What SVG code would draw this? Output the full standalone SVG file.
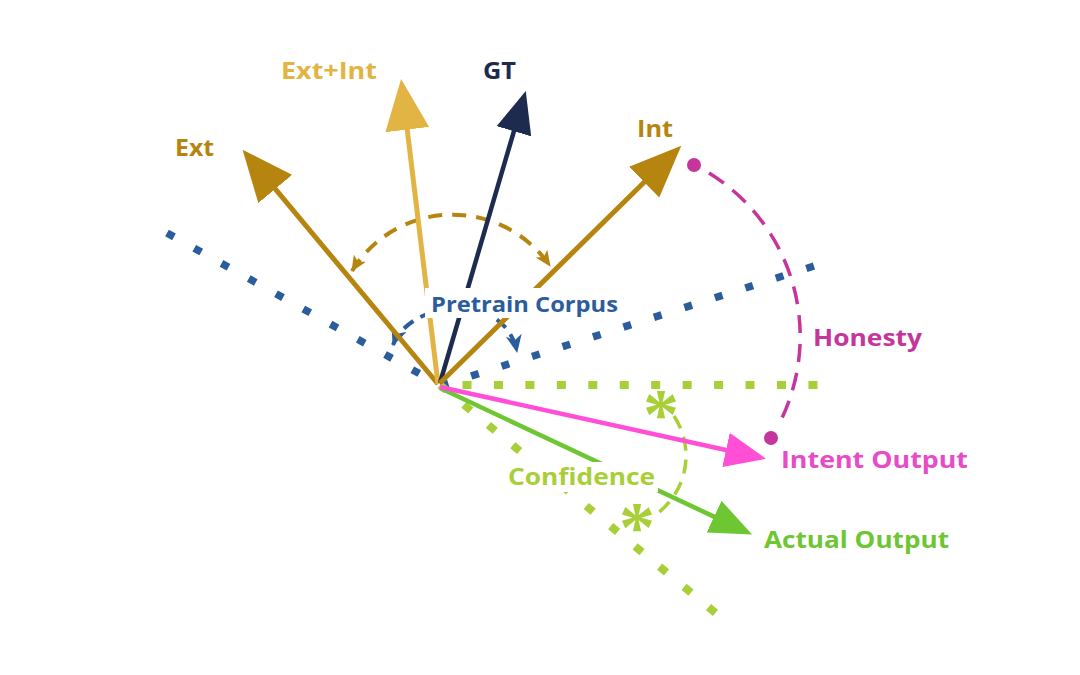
<svg xmlns="http://www.w3.org/2000/svg" width="1080" height="675" viewBox="0 0 1080 675">
<style>
text{font-family:"Open Sans","Noto Sans","DejaVu Sans",sans-serif;font-weight:700;font-size:24px}
.dotline{fill:none;stroke-linecap:butt}
.vec{fill:none;stroke-linecap:butt}
.ast{font-family:"Liberation Serif",serif;font-weight:700;font-size:72px;fill:#A9CF38;text-anchor:middle}
</style>
<defs>
<marker id="mExt" markerUnits="userSpaceOnUse" viewBox="0 0 51 44" markerWidth="51" markerHeight="44" refX="1" refY="22" orient="auto"><path d="M0 0 L51 22 L0 44 Z" fill="#B5850F"/></marker>
<marker id="mEI" markerUnits="userSpaceOnUse" viewBox="0 0 51 44" markerWidth="51" markerHeight="44" refX="1" refY="22" orient="auto"><path d="M0 0 L51 22 L0 44 Z" fill="#E2B443"/></marker>
<marker id="mGT" markerUnits="userSpaceOnUse" viewBox="0 0 42 36" markerWidth="42" markerHeight="36" refX="1" refY="18" orient="auto"><path d="M0 0 L42 18 L0 36 Z" fill="#1C2B4E"/></marker>
<marker id="mInt" markerUnits="userSpaceOnUse" viewBox="0 0 52 43" markerWidth="52" markerHeight="43" refX="1" refY="21.5" orient="auto"><path d="M0 0 L52 21.5 L0 43 Z" fill="#B5850F"/></marker>
<marker id="mPink" markerUnits="userSpaceOnUse" viewBox="0 0 41 35" markerWidth="41" markerHeight="35" refX="1" refY="17.5" orient="auto"><path d="M0 0 L41 17.5 L0 35 Z" fill="#FF4FD6"/></marker>
<marker id="mGreen" markerUnits="userSpaceOnUse" viewBox="0 0 42 35" markerWidth="42" markerHeight="35" refX="1" refY="17.5" orient="auto"><path d="M0 0 L42 17.5 L0 35 Z" fill="#6DC632"/></marker>
<marker id="sGold" markerUnits="userSpaceOnUse" viewBox="0 0 16 14" markerWidth="16" markerHeight="14" refX="15" refY="7" orient="auto-start-reverse"><path d="M0 0 L16 7 L0 14 L4 7 Z" fill="#B5850F"/></marker>
<marker id="sBlue" markerUnits="userSpaceOnUse" viewBox="0 0 18 16" markerWidth="18" markerHeight="16" refX="17" refY="8" orient="auto-start-reverse"><path d="M0 0 L18 8 L0 16 L5 8 Z" fill="#2B5C9C"/></marker>
</defs>
<g id="connectors">
<path class="dotline" d="M167 233 L438 384" stroke="#2B5C9C" stroke-width="7.5" stroke-dasharray="8 23.2"/>
<path class="dotline" d="M440 386 L814 266" stroke="#2B5C9C" stroke-width="7.5" stroke-dasharray="8 24" stroke-dashoffset="-0.7"/>
<path class="dotline" d="M462.5 385 L822 385" stroke="#A9CF38" stroke-width="8" stroke-dasharray="9 22.45"/>
<path class="dotline" d="M440 385 L718 615" stroke="#A9CF38" stroke-width="8" stroke-dasharray="9 22.75" stroke-dashoffset="0.75"/>
<path d="M352 271 A118 118 0 0 1 550 266" fill="none" stroke="#B5850F" stroke-width="4" stroke-dasharray="14 10" marker-start="url(#sGold)" marker-end="url(#sGold)"/>
<path d="M393 345 C410 300 505 290 517 352" fill="none" stroke="#2B5C9C" stroke-width="4" stroke-dasharray="12 8" marker-start="url(#sBlue)" marker-end="url(#sBlue)"/>
<path d="M709 173 A192 192 0 0 1 778 426" fill="none" stroke="#C4369C" stroke-width="3.5" stroke-dasharray="18 11"/>
<path d="M674 416 A72 72 0 0 1 652 517" fill="none" stroke="#A9CF38" stroke-width="3.5" stroke-dasharray="14 9"/>
<line class="vec" x1="438" y1="384" x2="274.6" y2="188.2" stroke="#B5850F" stroke-width="5" marker-end="url(#mExt)"/>
<line class="vec" x1="438" y1="384" x2="407.1" y2="128.6" stroke="#E2B443" stroke-width="5" marker-end="url(#mEI)"/>
<line class="vec" x1="440" y1="383" x2="514.2" y2="130.3" stroke="#1C2B4E" stroke-width="4.5" marker-end="url(#mGT)"/>
<line class="vec" x1="440" y1="383" x2="644.9" y2="181.5" stroke="#B5850F" stroke-width="5" marker-end="url(#mInt)"/>
<line class="vec" x1="440" y1="388" x2="715" y2="517.1" stroke="#6DC632" stroke-width="4.5" marker-end="url(#mGreen)"/>
<line class="vec" x1="440" y1="387" x2="727" y2="450.2" stroke="#FF4FD6" stroke-width="4.5" marker-end="url(#mPink)"/>
<circle cx="694" cy="165" r="7" fill="#C4369C"/>
<circle cx="771" cy="438" r="7" fill="#C4369C"/>
</g>
<g id="asterisk-top"><text class="ast" x="661" y="438">*</text></g>
<g id="asterisk-bottom"><text class="ast" x="637" y="551">*</text></g>
<g id="node-ext"><text x="175" y="156" fill="#B5850F" textLength="39" lengthAdjust="spacingAndGlyphs">Ext</text></g>
<g id="node-extint"><text x="281" y="79" fill="#E2B443" textLength="96" lengthAdjust="spacingAndGlyphs">Ext+Int</text></g>
<g id="node-gt"><text x="483" y="79" fill="#1C2B4E" textLength="33" lengthAdjust="spacingAndGlyphs">GT</text></g>
<g id="node-int"><text x="637" y="137" fill="#B5850F" textLength="36" lengthAdjust="spacingAndGlyphs">Int</text></g>
<g id="node-pretrain"><rect x="425" y="288" width="198" height="30" fill="#FFFFFF"/><text x="431" y="312" fill="#2B5C9C" style="font-size:22px" textLength="187" lengthAdjust="spacingAndGlyphs">Pretrain Corpus</text></g>
<g id="node-honesty"><text x="813" y="346" fill="#C4369C" textLength="109" lengthAdjust="spacingAndGlyphs">Honesty</text></g>
<g id="node-intent"><text x="781" y="468" fill="#E84BC8" textLength="187" lengthAdjust="spacingAndGlyphs">Intent Output</text></g>
<g id="node-confidence"><rect x="504" y="462" width="154" height="30" fill="#FFFFFF"/><text x="508" y="485" fill="#A9CF38" textLength="147" lengthAdjust="spacingAndGlyphs">Confidence</text></g>
<g id="node-actual"><text x="764" y="548" fill="#6DC632" textLength="185" lengthAdjust="spacingAndGlyphs">Actual Output</text></g>
</svg>
